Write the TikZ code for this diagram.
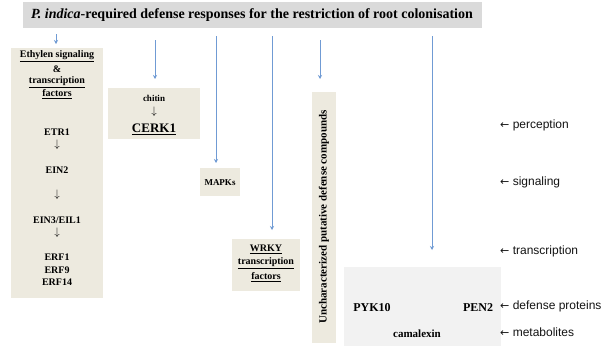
\documentclass[tikz,border=0pt]{standalone}
\usepackage{fontspec}
\setmainfont{Liberation Serif}
\newfontfamily\sansf{Liberation Sans}
\newfontfamily\arrf{DejaVu Sans}
\usetikzlibrary{arrows.meta}
\definecolor{beige}{RGB}{237,234,223}
\definecolor{titlegray}{RGB}{218,218,218}
\definecolor{lightgray}{RGB}{242,242,242}
\definecolor{arrowblue}{RGB}{112,155,212}
\definecolor{labtext}{RGB}{20,20,20}
\newcommand{\larr}{{\arrf\fontsize{11}{13}\selectfont ←}}
\begin{document}
\begin{tikzpicture}[x=1pt,y=-1pt,
  box/.style={fill=beige, draw=none, inner sep=0pt, anchor=north west},
  txt/.style={inner sep=0pt, font=\bfseries\fontsize{10}{12}\selectfont},
  darr/.style={inner sep=0pt, font=\fontsize{11}{12}\selectfont},
  lab/.style={inner sep=0pt, anchor=west, text=labtext, font=\sansf\fontsize{12}{14}\selectfont},
  arr/.style={draw=arrowblue, line width=0.9pt, -{Stealth[length=4pt,width=4pt]}}]
\useasboundingbox (0,0) rectangle (607,349);
\fill[white] (0,0) rectangle (607,349);

% title
\node[fill=titlegray, inner sep=0pt, minimum width=459pt, minimum height=26pt, anchor=north west] (title) at (23,2) {};
\node[inner sep=0pt, font=\bfseries\fontsize{14}{16}\selectfont] (tt) at (252,15) {\textit{P. indica}-required defense responses for the restriction of root colonisation};

% boxes
\node[box, minimum width=92pt, minimum height=250pt] (eth) at (11,48) {};
\node[box, minimum width=92pt, minimum height=51pt] (chit) at (108,88) {};
\node[box, minimum width=40pt, minimum height=28pt] (mapk) at (200,168) {};
\node[box, minimum width=68pt, minimum height=52pt] (wrky) at (232,239) {};
\node[box, minimum width=24pt, minimum height=251pt] (unch) at (312,92) {};
\node[fill=lightgray, inner sep=0pt, minimum width=157pt, minimum height=79pt, anchor=north west] (def) at (344,267) {};

% left box text
\node[txt] (e1) at (57,56) {\underline{Ethylen signaling}};
\node[txt] (e2) at (57,69) {\&};
\node[txt] (e3) at (57,82) {\underline{transcription}};
\node[txt] (e4) at (57,94) {\underline{factors}};
\node[txt] (etr) at (57,132) {ETR1};
\node[darr] (a1) at (57,145) {$\downarrow$};
\node[txt] (ein2) at (57,170) {EIN2};
\node[darr] (a2) at (57,195) {$\downarrow$};
\node[txt] (ein3) at (57,220) {EIN3/EIL1};
\node[darr] (a3) at (57,233) {$\downarrow$};
\node[txt] (erf1) at (57,257) {ERF1};
\node[txt] (erf9) at (57,270) {ERF9};
\node[txt] (erf14) at (57,282) {ERF14};

% chitin box
\node[txt, font=\bfseries\fontsize{9}{11}\selectfont] (chitin) at (154,98) {chitin};
\node[darr] (a4) at (154,112) {$\downarrow$};
\node[txt, font=\bfseries\fontsize{13}{15}\selectfont] (cerk) at (154,129) {\underline{CERK1}};

% MAPKs
\node[txt, font=\bfseries\fontsize{9}{11}\selectfont] (mapkt) at (220,183) {MAPKs};

% WRKY
\node[txt] (w1) at (266,249) {\underline{WRKY}};
\node[txt] (w2) at (266,263) {\underline{transcription}};
\node[txt] (w3) at (266,277) {\underline{factors}};

% vertical
\node[txt, font=\bfseries\fontsize{11}{13}\selectfont, rotate=90] (ut) at (324,217) {Uncharacterized putative defense compounds};

% defense box
\node[txt, font=\bfseries\fontsize{12}{14}\selectfont] (pyk) at (372,308) {PYK10};
\node[txt, font=\bfseries\fontsize{12}{14}\selectfont] (pen) at (478,308) {PEN2};
\node[txt, font=\bfseries\fontsize{11}{13}\selectfont] (cam) at (417,334) {camalexin};

% right labels
\node[lab] (l1) at (500,125) {\larr\ perception};
\node[lab] (l2) at (500,182) {\larr\ signaling};
\node[lab] (l3) at (500,251) {\larr\ transcription};
\node[lab] (l4) at (500,306) {\larr\ defense proteins};
\node[lab] (l5) at (500,332) {\larr\ metabolites};

% arrows
\coordinate (s1) at (56,34);
\coordinate (s2) at (155,40);
\coordinate (s3) at (216,36);
\coordinate (s4) at (272,36);
\coordinate (s5) at (320,40);
\coordinate (s6) at (432,36);
\draw[arr, shorten >=4pt] (s1) -- (s1 |- eth.north);
\draw[arr, shorten >=9pt] (s2) -- (s2 |- chit.north);
\draw[arr, shorten >=5pt] (s3) -- (s3 |- mapk.north);
\draw[arr, shorten >=9pt] (s4) -- (s4 |- wrky.north);
\draw[arr, shorten >=13pt] (s5) -- (s5 |- unch.north);
\draw[arr, shorten >=17pt] (s6) -- (s6 |- def.north);
\end{tikzpicture}
\end{document}
